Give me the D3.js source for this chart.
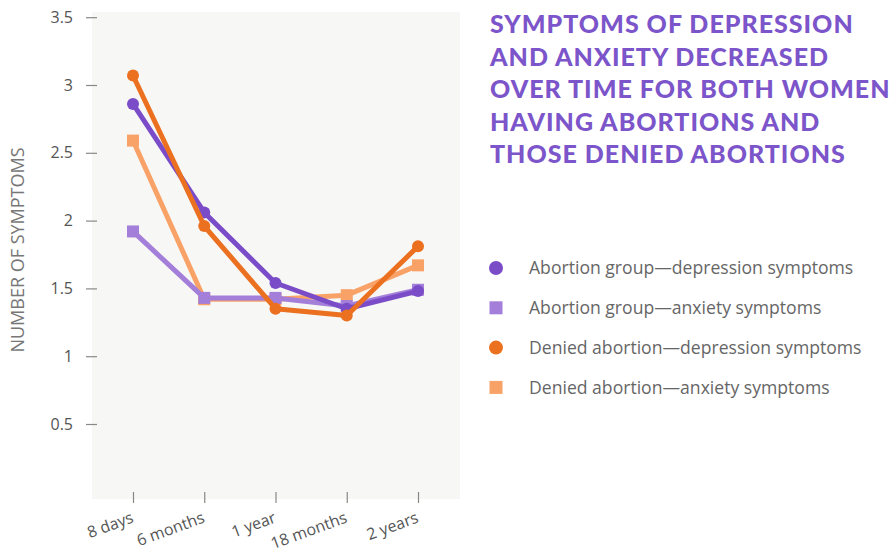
<!DOCTYPE html>
<html>
<head>
<meta charset="utf-8">
<script src="https://cdn.jsdelivr.net/npm/d3@7"></script>
<style>
  body { margin: 0; background: #fff; }
  text { font-family: "Open Sans", sans-serif; }
</style>
</head>
<body>
<svg id="chart" width="896" height="550"></svg>
<script>
// data
const timepoints = ["8 days", "6 months", "1 year", "18 months", "2 years"];
const abortionDepression = [2.86, 2.06, 1.54, 1.35, 1.48];
const abortionAnxiety = [1.92, 1.43, 1.43, 1.37, 1.49];
const deniedDepression = [3.07, 1.96, 1.35, 1.30, 1.81];
const deniedAnxiety = [2.59, 1.42, 1.42, 1.45, 1.67];
const yTicks = [0.5, 1, 1.5, 2, 2.5, 3, 3.5];
const titleLines = [
  "SYMPTOMS OF DEPRESSION",
  "AND ANXIETY DECREASED",
  "OVER TIME FOR BOTH WOMEN",
  "HAVING ABORTIONS AND",
  "THOSE DENIED ABORTIONS"
];

// series table, in drawing order (back to front)
const series = [
  { name: "Denied abortion\u2014anxiety symptoms", values: deniedAnxiety, color: "#F9A268", shape: "square", legend: 3 },
  { name: "Abortion group\u2014anxiety symptoms", values: abortionAnxiety, color: "#A47FD9", shape: "square", legend: 1 },
  { name: "Abortion group\u2014depression symptoms", values: abortionDepression, color: "#7B4CC8", shape: "circle", legend: 0 },
  { name: "Denied abortion\u2014depression symptoms", values: deniedDepression, color: "#EB7020", shape: "circle", legend: 2 }
];

const svg = d3.select("#chart");

// plot area
const plot = { left: 92, right: 460, top: 12, bottom: 499 };

const x = d3.scalePoint()
  .domain(timepoints)
  .range([133, 418]);

const y = d3.scaleLinear()
  .domain([0, 3.5])
  .range([491.8, 17.2]);

svg.append("rect")
  .attr("x", plot.left)
  .attr("y", plot.top)
  .attr("width", plot.right - plot.left)
  .attr("height", plot.bottom - plot.top)
  .attr("fill", "#F7F7F5");

// y axis: short ticks + labels
const yAxis = svg.append("g")
  .attr("transform", "translate(97,0)")
  .call(d3.axisLeft(y).tickValues(yTicks).tickSize(11).tickPadding(13).tickFormat(d3.format("")));
yAxis.select(".domain").remove();
yAxis.selectAll(".tick line").attr("stroke", "#888").attr("stroke-width", 1.2);
yAxis.selectAll(".tick text")
  .attr("fill", "#555")
  .style("font-size", "16px");

// x axis
const xAxis = svg.append("g")
  .attr("transform", "translate(0,492)")
  .call(d3.axisBottom(x).tickSize(11).tickPadding(0));
xAxis.select(".domain").remove();
xAxis.selectAll(".tick line").attr("stroke", "#888").attr("stroke-width", 1.2);
xAxis.selectAll(".tick text")
  .attr("fill", "#555")
  .style("font-size", "16px")
  .attr("text-anchor", "end")
  .attr("y", 0)
  .attr("dy", null)
  .attr("transform", "translate(1,30) rotate(-20)");

// y axis title
svg.append("text")
  .attr("transform", "translate(24,250) rotate(-90)")
  .attr("text-anchor", "middle")
  .attr("fill", "#777")
  .style("font-size", "18px")
  .text("NUMBER OF SYMPTOMS");

// lines and markers
const line = d3.line()
  .x((d, i) => x(timepoints[i]))
  .y(d => y(d));

const seriesGroups = svg.append("g")
  .selectAll("g")
  .data(series)
  .join("g");

seriesGroups.append("path")
  .attr("d", d => line(d.values))
  .attr("fill", "none")
  .attr("stroke", d => d.color)
  .attr("stroke-width", 5)
  .attr("stroke-linejoin", "round");

seriesGroups.each(function (s) {
  const g = d3.select(this);
  if (s.shape === "circle") {
    g.selectAll("circle")
      .data(s.values)
      .join("circle")
      .attr("cx", (d, i) => x(timepoints[i]))
      .attr("cy", d => y(d))
      .attr("r", 6)
      .attr("fill", s.color);
  } else {
    g.selectAll("rect")
      .data(s.values)
      .join("rect")
      .attr("x", (d, i) => x(timepoints[i]) - 6)
      .attr("y", d => y(d) - 6)
      .attr("width", 12)
      .attr("height", 12)
      .attr("fill", s.color);
  }
});

// title, scaled so the widest line fits between x=490 and x=892
const title = svg.append("g")
  .selectAll("text")
  .data(titleLines)
  .join("text")
  .attr("x", 490)
  .attr("y", (d, i) => 33 + i * 32.6)
  .attr("fill", "#7B55C9")
  .style("font-family", "Lato, sans-serif")
  .style("font-weight", 900)
  .style("font-size", "25px")
  .style("letter-spacing", "1px")
  .text(d => d);

let widest = 0;
title.each(function () { widest = Math.max(widest, this.getComputedTextLength()); });
if (widest > 402) {
  title.style("font-size", (25 * 402 / widest).toFixed(2) + "px");
}

// legend
const legendOrder = series.slice().sort((a, b) => a.legend - b.legend);
const legend = svg.append("g")
  .selectAll("g")
  .data(legendOrder)
  .join("g")
  .attr("transform", (d, i) => `translate(496,${268 + i * 39.8})`);

legend.filter(d => d.shape === "circle").append("circle")
  .attr("r", 7)
  .attr("fill", d => d.color);
legend.filter(d => d.shape === "square").append("rect")
  .attr("x", -6.5).attr("y", -6.5)
  .attr("width", 13).attr("height", 13)
  .attr("fill", d => d.color);

legend.append("text")
  .attr("x", 33)
  .attr("dy", "0.35em")
  .attr("fill", "#666")
  .style("font-size", "17.6px")
  .text(d => d.name);
</script>
</body>
</html>
